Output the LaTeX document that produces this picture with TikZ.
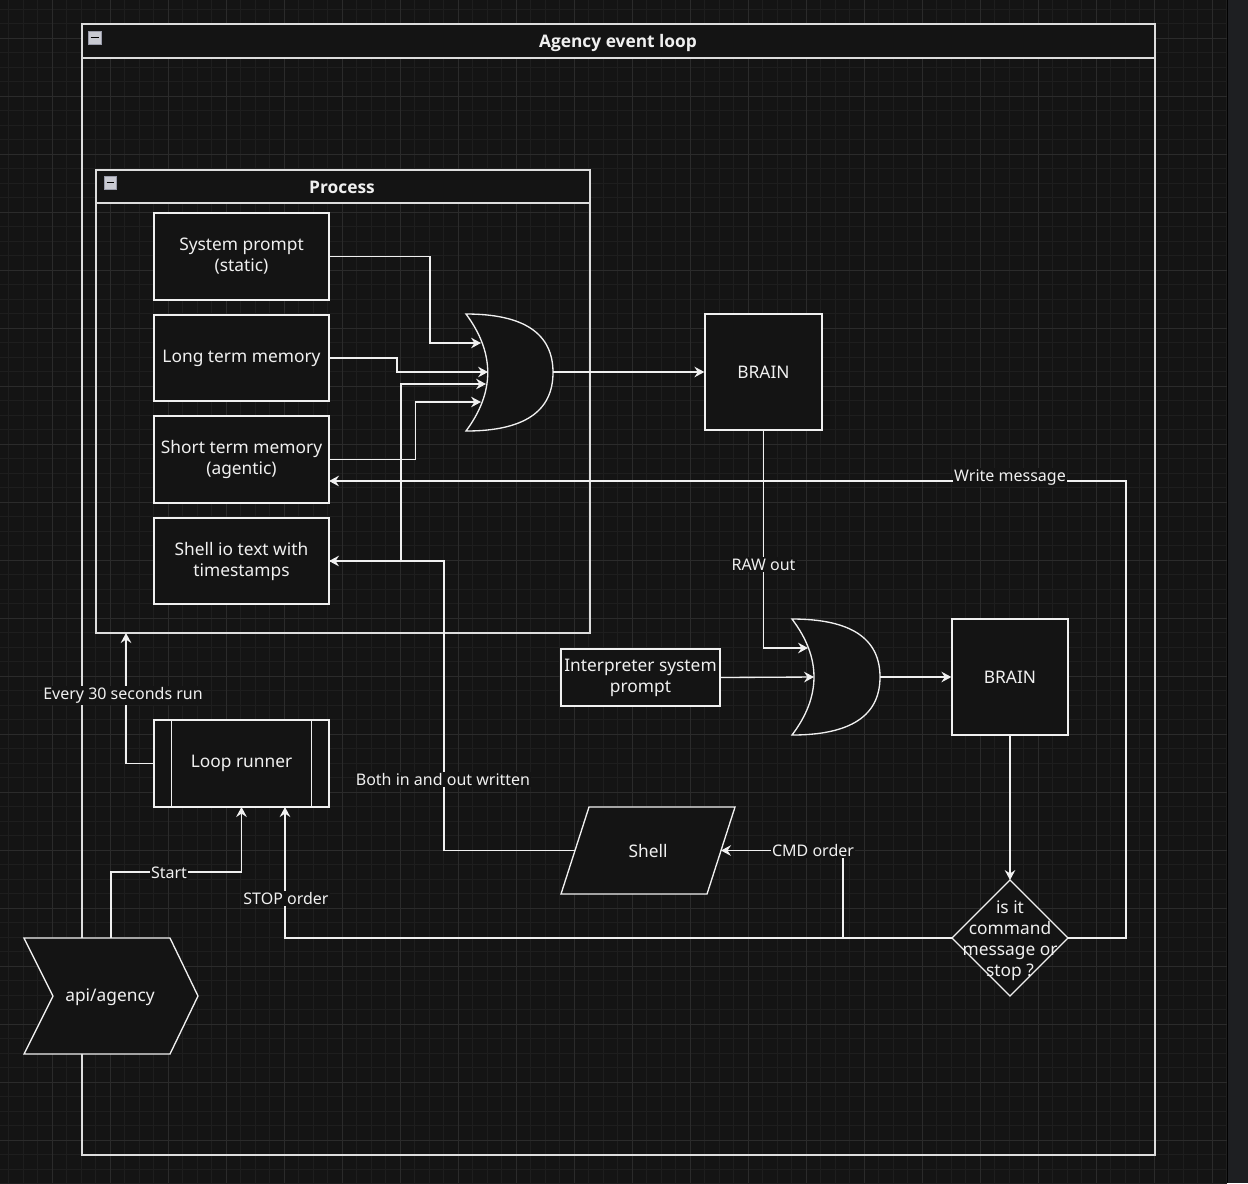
\documentclass[tikz,border=0pt]{standalone}
\usepackage{fontspec}
\setmainfont{Noto Sans}
\newfontfamily\ttlfam{Open Sans}
\usetikzlibrary{arrows.meta,shapes.geometric}
\definecolor{bgc}{HTML}{141414}
\definecolor{fg}{HTML}{F0F0F0}
\definecolor{gminor}{HTML}{1E1E1E}
\definecolor{gmajor}{HTML}{2B2B2B}
\definecolor{panel}{HTML}{1E1F22}
\definecolor{icnfill}{HTML}{C9CAD2}
\definecolor{icnbord}{HTML}{9A9CAA}
\newcommand\myNodeFont{\fontsize{13}{15.75}\selectfont}
\newcommand\myLblFont{\fontsize{12}{15}\selectfont}
\newcommand\myTitleFont{\ttlfam\fontsize{13}{15.75}\selectfont\bfseries}
\tikzset{
  shp/.style={draw=fg, fill=bgc, line width=1pt},
  box/.style={shp, rectangle, inner sep=0pt, align=center, font=\myNodeFont, text=fg},
  txt/.style={inner sep=0pt, align=center, font=\myNodeFont, text=fg},
  wire/.style={draw=fg, line width=1pt},
  arr/.style={wire, -{Stealth[length=7.5pt,width=8pt,inset=2.6pt]}},
  lbl/.style={fill=bgc, inner sep=1pt, font=\myLblFont, text=fg},
  cont/.style={draw=fg!92!black, line width=1.2pt},
  ttl/.style={inner sep=0pt, font=\myTitleFont, text=fg},
  icn/.style={draw=icnbord, fill=icnfill, line width=0.6pt},
}
\begin{document}
\begin{tikzpicture}[x=0.75pt,y=-0.75pt]
\useasboundingbox (0,0) rectangle (1248,1183);
% background and grid
\fill[bgc] (0,0) rectangle (1248,1183);
\foreach \i in {0,...,84} {\pgfmathsetmacro\xx{8.5+14.5*\i}\draw[gminor,line width=0.6pt] (\xx,0) -- (\xx,1183);}
\foreach \i in {0,...,81} {\pgfmathsetmacro\yy{9+14.5*\i}\draw[gminor,line width=0.6pt] (0,\yy) -- (1227,\yy);}
\foreach \i in {0,...,20} {\pgfmathsetmacro\xx{52+58*\i}\draw[gmajor,line width=0.7pt] (\xx,0) -- (\xx,1183);}
\foreach \i in {0,...,19} {\pgfmathsetmacro\yy{38+58*\i}\draw[gmajor,line width=0.7pt] (0,\yy) -- (1227,\yy);}
\fill[panel] (1227,0) rectangle (1248,1183);
\draw[black,line width=1pt] (1227.5,0) -- (1227.5,1183);

% containers
\draw[cont] (82,24) rectangle (1155,1155);
\filldraw[cont, fill=bgc] (82,24) rectangle (1155,58);
\node[ttl] (agency) at (618,42.5) {Agency event loop};
\draw[icn] (88,31) rectangle (101,44);
\draw[black,line width=1pt] (90.5,37.5) -- (98.5,37.5);

\draw[cont] (96,170) rectangle (590,633);
\filldraw[cont, fill=bgc] (96,170) rectangle (590,203);
\node[ttl] (process) at (342,187.5) {Process};
\draw[icn] (104,176) rectangle (116,189);
\draw[black,line width=1pt] (106.5,182.5) -- (113.5,182.5);
\coordinate (procbot) at (126,633);

% nodes
\node[box, minimum width=131.25pt, minimum height=65.25pt] (sys) at (241.5,256.5) {System prompt\\(static)};
\node[box, minimum width=131.25pt, minimum height=64.5pt] (ltm) at (241.5,358) {Long term memory};
\node[box, minimum width=131.25pt, minimum height=65.25pt] (stm) at (241.5,459.5) {Short term memory\\(agentic)};
\node[box, minimum width=131.25pt, minimum height=64.5pt] (sio) at (241.5,561) {Shell io text with\\timestamps};
\node[box, minimum width=87.75pt, minimum height=87pt] (brain1) at (763.5,372) {BRAIN};
\node[box, minimum width=87pt, minimum height=87pt] (brain2) at (1010,677) {BRAIN};
\node[box, minimum width=119.25pt, minimum height=42.75pt] (interp) at (640.5,677.5) {Interpreter system\\prompt};
\node[box, minimum width=131.25pt, minimum height=65.25pt] (loop) at (241.5,763.5) {Loop runner};
\draw[wire] ([xshift=13.5pt]loop.north west) -- ([xshift=13.5pt]loop.south west);
\draw[wire] ([xshift=-13.5pt]loop.north east) -- ([xshift=-13.5pt]loop.south east);

% shell (parallelogram)
\filldraw[shp] (561,894) -- (589,807) -- (735,807) -- (707,894) -- cycle;
\node[txt] (shell) at (648,850.5) {Shell};
\coordinate (shellL) at (575,850.5);
\coordinate (shellR) at (721,850.5);

% OR gates
\filldraw[shp] (466,314) .. controls (524,314) and (553,333.5) .. (553,372.5) .. controls (553,411.5) and (524,431) .. (466,431) .. controls (495,392) and (495,353) .. (466,314) -- cycle;
\coordinate (or1out) at (553,372);
\coordinate (or1a) at (481,343);
\coordinate (or1b) at (488,372);
\coordinate (or1c) at (486,384);
\coordinate (or1d) at (481,402);
\filldraw[shp] (792,619) .. controls (850.7,619) and (880,638.3) .. (880,677) .. controls (880,715.7) and (850.7,735) .. (792,735) .. controls (821.3,696.3) and (821.3,657.7) .. (792,619) -- cycle;
\coordinate (or2out) at (880,677);
\coordinate (or2a) at (808,648);
\coordinate (or2b) at (814,677);

% diamond
\filldraw[shp] (1010,880) -- (1068,938) -- (1010,996) -- (952,938) -- cycle;
\node[txt] (dmd) at (1010,940.5) {is it\\command\\message or\\stop ?};
\coordinate (dtop) at (1010,880);
\coordinate (dleft) at (952,938);
\coordinate (dright) at (1068,938);

% api/agency
\filldraw[shp] (24,938) -- (170,938) -- (198,996) -- (170,1054) -- (24,1054) -- (53,996) -- cycle;
\node[txt] (api) at (110,997.5) {api/agency};
\coordinate (apitop) at (111,938);

% edges
\draw[arr] (sys.east) -- (430,256.5) -- (430,343) -- (or1a);
\draw[arr] (ltm.east) -- (397,358) -- (397,372) -- (or1b);
\draw[arr] (sio.east) -- (401,561) -- (401,384) -- (or1c);
\draw[arr] (stm.east) -- (415.5,459.5) -- (415.5,402) -- (or1d);
\draw[arr] (or1out) -- (brain1.west);
\draw[arr] (brain1.south) -- (763.5,648) -- (or2a);
\draw[arr] (interp.east) -- (or2b);
\draw[arr] (or2out) -- (brain2.west);
\draw[arr] (brain2.south) -- (dtop);
\coordinate (stmin) at (329,481);
\draw[arr] (dright) -- (1126,938) -- (1126,481) -- (stmin);
\coordinate (loopstop) at (285,807);
\draw[arr] (dleft) -- (285,938) -- (loopstop);
\draw[arr] (843,938) -- (843,850.5) -- (shellR);
\coordinate (sioin) at (329,561);
\draw[arr] (shellL) -- (444,850.5) -- (444,561) -- (sioin);
\draw[arr] (loop.west) -- (126,763.5) -- (procbot);
\coordinate (loopstart) at (241.5,807);
\draw[arr] (apitop) -- (111,872) -- (241.5,872) -- (loopstart);

% edge labels
\node[lbl] (lwrite) at (1010,477.5) {Write message};
\node[lbl] (lraw) at (763.5,564.5) {RAW out};
\node[lbl] (lstop) at (286,898.5) {STOP order};
\node[lbl] (lcmd) at (813,850) {CMD order};
\node[lbl] (lboth) at (443,779.5) {Both in and out written};
\node[lbl] (levery) at (123,695.5) {Every 30 seconds run};
\node[lbl] (lstart) at (169,872.5) {Start};
\end{tikzpicture}
\end{document}
